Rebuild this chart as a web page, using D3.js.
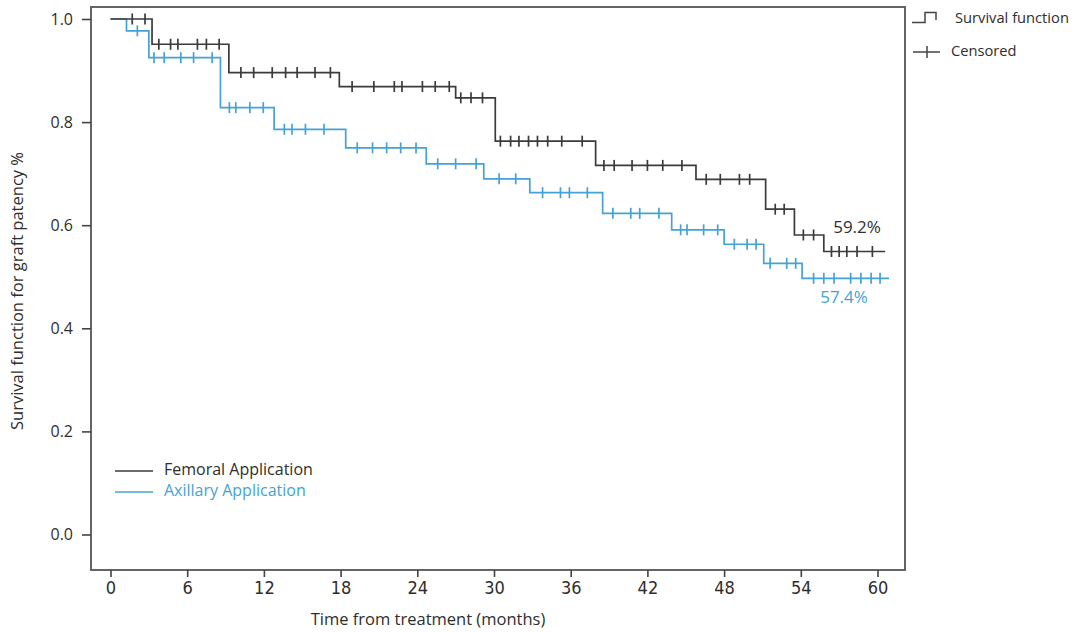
<!DOCTYPE html>
<html>
<head>
<meta charset="utf-8">
<script src="https://cdn.jsdelivr.net/npm/d3@7"></script>
<style>
  html, body { margin: 0; padding: 0; background: #fff; }
  svg { display: block; }
  text { font-family: "Open Sans", "Noto Sans", sans-serif; fill: #2e2e2e; }
  .xtick text { font-family: "Liberation Sans Narrow", "DejaVu Sans Condensed", "Open Sans", sans-serif; }
</style>
</head>
<body>
<svg id="chart" width="1074" height="632"></svg>
<script>
// ---------- data ----------
const xTicks = [0, 6, 12, 18, 24, 30, 36, 42, 48, 54, 60];
const yTicks = [0.0, 0.2, 0.4, 0.6, 0.8, 1.0];

// Femoral application: step drop times (months) and survival after drop
const femoralTimes = [0, 3.25, 9.26, 17.9, 27.0, 30.1, 37.95, 45.8, 51.25, 53.5, 55.8, 60.6];
const femoralSurv  = [1.0, 0.951, 0.896, 0.869, 0.847, 0.763, 0.716, 0.689, 0.631, 0.581, 0.549, 0.549];
const femoralCensored = [1.7, 2.7, 3.78, 4.7, 5.27, 6.8, 7.5, 8.5, 10.2, 11.2, 12.65, 13.7, 14.6, 16.0, 17.2,
  18.9, 20.6, 22.2, 22.8, 24.4, 25.4, 26.5, 27.4, 28.2, 29.1, 30.5, 31.3, 31.95, 32.7, 33.4, 34.2, 35.3, 36.9,
  38.6, 39.4, 40.8, 42.0, 43.2, 44.7, 46.6, 47.7, 49.2, 50.0, 52.0, 52.7, 54.2, 55.0, 56.4, 57.0, 57.6, 58.4, 59.6];

// Axillary application
const axillaryTimes = [0, 1.25, 3.0, 8.6, 12.8, 18.4, 24.7, 29.2, 32.8, 38.5, 43.9, 48.0, 51.1, 54.1, 60.9];
const axillarySurv  = [1.0, 0.977, 0.925, 0.828, 0.786, 0.750, 0.719, 0.690, 0.663, 0.623, 0.591, 0.563, 0.526, 0.497, 0.497];
const axillaryCensored = [2.1, 3.4, 4.2, 5.5, 6.5, 7.95, 9.3, 9.8, 10.9, 11.95, 13.6, 14.2, 15.25, 16.7,
  19.3, 20.5, 21.6, 22.7, 23.9, 25.6, 27.0, 28.6, 30.4, 31.7, 33.8, 35.2, 35.9, 37.3,
  39.3, 40.7, 41.4, 42.9, 44.6, 45.1, 46.4, 47.5, 48.8, 49.8, 50.5, 51.6, 52.9, 53.6,
  55.0, 55.8, 56.6, 57.9, 58.7, 59.5, 60.2];

const seriesNames = ["Femoral Application", "Axillary Application"];
const endLabels = ["59.2%", "57.4%"];

// ---------- chart ----------
const svg = d3.select("#chart");
const frame = { left: 91, right: 905, top: 7, bottom: 570 };
const x = d3.scaleLinear().domain([0, 60]).range([110.5, 877.5]);
const y = d3.scaleLinear().domain([0, 1]).range([534.5, 19]);

const colors = ["#3b3b3b", "#44a3d4"];

// frame
svg.append("rect")
  .attr("x", frame.left).attr("y", frame.top)
  .attr("width", frame.right - frame.left).attr("height", frame.bottom - frame.top)
  .attr("fill", "none").attr("stroke", "#555").attr("stroke-width", 1.8);

// x axis
const xAxis = svg.append("g").attr("class", "xtick")
  .attr("transform", `translate(0,${frame.bottom})`)
  .call(d3.axisBottom(x).tickValues(xTicks).tickSize(7).tickPadding(4).tickFormat(d3.format("d")));
xAxis.select(".domain").remove();
xAxis.selectAll(".tick line").attr("stroke", "#444").attr("stroke-width", 1.6);
xAxis.selectAll(".tick text").attr("font-size", 18).attr("fill", "#2e2e2e");

// y axis
const yAxis = svg.append("g")
  .attr("transform", `translate(${frame.left},0)`)
  .call(d3.axisLeft(y).tickValues(yTicks).tickSize(9).tickPadding(9).tickFormat(d3.format(".1f")));
yAxis.select(".domain").remove();
yAxis.selectAll(".tick line").attr("stroke", "#444").attr("stroke-width", 1.6);
yAxis.selectAll(".tick text").attr("font-size", 16).attr("fill", "#2e2e2e");

// axis titles
svg.append("text")
  .attr("x", 428).attr("y", 621)
  .attr("text-anchor", "middle").attr("dominant-baseline", "middle")
  .attr("font-size", 16.5)
  .text("Time from treatment (months)");

svg.append("text")
  .attr("transform", "translate(19,291) rotate(-90)")
  .attr("text-anchor", "middle").attr("dominant-baseline", "middle")
  .attr("font-size", 16.5)
  .text("Survival function for graft patency %");

// series
const series = [
  { times: axillaryTimes, surv: axillarySurv, cens: axillaryCensored, color: colors[1] },
  { times: femoralTimes, surv: femoralSurv, cens: femoralCensored, color: colors[0] }
];

const line = d3.line().x(d => x(d[0])).y(d => y(d[1])).curve(d3.curveStepAfter);

function survAt(s, t) {
  let v = s.surv[0];
  for (let i = 0; i < s.times.length; i++) if (s.times[i] <= t) v = s.surv[i];
  return v;
}

series.forEach(s => {
  const pts = s.times.map((t, i) => [t, s.surv[i]]);
  svg.append("path")
    .attr("d", line(pts))
    .attr("fill", "none").attr("stroke", s.color).attr("stroke-width", 1.7);
  svg.append("g").selectAll("line").data(s.cens).join("line")
    .attr("x1", d => x(d)).attr("x2", d => x(d))
    .attr("y1", d => y(survAt(s, d)) - 5.5)
    .attr("y2", d => y(survAt(s, d)) + 5.5)
    .attr("stroke", s.color).attr("stroke-width", 1.7);
});

// end labels
svg.append("text").attr("x", 857).attr("y", 228)
  .attr("text-anchor", "middle").attr("dominant-baseline", "middle")
  .attr("font-size", 17).attr("fill", "#2e2e2e").text(endLabels[0]);
svg.append("text").attr("x", 844).attr("y", 298)
  .attr("text-anchor", "middle").attr("dominant-baseline", "middle")
  .attr("font-size", 17).style("fill", colors[1]).text(endLabels[1]);

// bottom-left legend
seriesNames.forEach((name, i) => {
  const ly = 471 + i * 21;
  svg.append("line").attr("x1", 115).attr("x2", 153).attr("y1", ly).attr("y2", ly)
    .attr("stroke", colors[i]).attr("stroke-width", 1.6);
  svg.append("text").attr("x", 164).attr("y", ly)
    .attr("dominant-baseline", "middle").attr("font-size", 16)
    .style("fill", i === 0 ? "#2e2e2e" : colors[1]).text(name);
});

// top-right legend
svg.append("path")
  .attr("d", "M912,22.5 H925 V12.5 H936 V20")
  .attr("fill", "none").attr("stroke", "#444").attr("stroke-width", 1.5);
svg.append("text").attr("x", 955).attr("y", 19)
  .attr("dominant-baseline", "middle").attr("font-size", 14.7).text("Survival function");
svg.append("line").attr("x1", 913).attr("x2", 940).attr("y1", 52).attr("y2", 52)
  .attr("stroke", "#444").attr("stroke-width", 1.5);
svg.append("line").attr("x1", 927).attr("x2", 927).attr("y1", 46).attr("y2", 58)
  .attr("stroke", "#444").attr("stroke-width", 1.5);
svg.append("text").attr("x", 951).attr("y", 52)
  .attr("dominant-baseline", "middle").attr("font-size", 14.7).text("Censored");
</script>
</body>
</html>
